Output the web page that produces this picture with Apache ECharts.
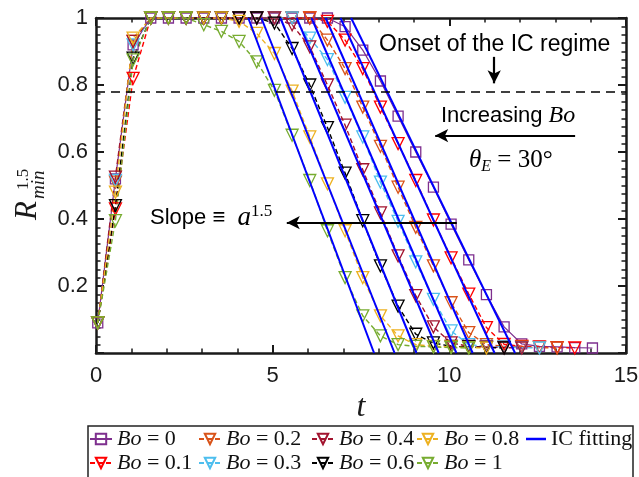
<!DOCTYPE html>
<html><head><meta charset="utf-8">
<script src="https://cdn.jsdelivr.net/npm/echarts@6/dist/echarts.min.js"></script>
<style>html,body{margin:0;padding:0;background:#fff}#c{width:639px;height:477px}</style>
</head><body><div id="c"></div>
<script>
// ---- data ----
const tVals = [0.05,0.55,1.05,1.55,2.05,2.55,3.05,3.55,4.05,4.55,5.05,5.55,6.05,6.55,7.05,7.55,8.05,8.55,9.05,9.55,10.05,10.55,11.05,11.55,12.05,12.55,13.05,13.55,14.05];
const bo0  = [0.09,0.52,0.92,1,1,1,1,1,1,1,1,1,1,1,0.974,0.904,0.812,0.707,0.600,0.495,0.385,0.278,0.174,0.078,0.027,0.02,0.018,0.016,0.015];
const bo01 = [0.09,0.43,0.82,1,1,1,1,1,1,1,1,1,1,0.99,0.934,0.849,0.734,0.625,0.515,0.397,0.284,0.176,0.076,0.026,0.02,0.018,0.016,0.015];
const bo02 = [0.09,0.51,0.93,1,1,1,1,1,1,1,1,1,1,0.934,0.849,0.734,0.617,0.495,0.375,0.26,0.15,0.061,0.025,0.02,0.018,0.016,0.015];
const bo03 = [0.09,0.515,0.92,1,1,1,1,1,1,1,1,1,0.94,0.876,0.763,0.645,0.51,0.393,0.272,0.16,0.066,0.025,0.02,0.018,0.016,0.015];
const bo04 = [0.09,0.525,0.93,1,1,1,1,1,1,1,1,0.98,0.914,0.8,0.68,0.547,0.418,0.29,0.171,0.078,0.03,0.02,0.018,0.016,0.015];
const bo06 = [0.09,0.44,0.88,1,1,1,1,1,1,1,0.985,0.909,0.8,0.673,0.537,0.395,0.26,0.14,0.056,0.03,0.02,0.018,0.016,0.015];
const bo08 = [0.09,0.48,0.94,1,1,1,1,1,0.99,0.954,0.894,0.782,0.645,0.505,0.365,0.225,0.111,0.051,0.025,0.02,0.018,0.016,0.015];
const bo1  = [0.09,0.395,0.875,1,1,1,0.98,0.96,0.93,0.869,0.784,0.65,0.515,0.365,0.225,0.111,0.051,0.025,0.02,0.018,0.016,0.015];
const seriesNames = ['Bo = 0','Bo = 0.1','Bo = 0.2','Bo = 0.3','Bo = 0.4','Bo = 0.6','Bo = 0.8','Bo = 1'];
const seriesValues = [bo0,bo01,bo02,bo03,bo04,bo06,bo08,bo1];
// IC fitting lines: t where fit reaches 1 and 0 (order as seriesNames)
const fitTop    = [7.22,6.92,6.5,6.1,5.68,5.22,4.68,4.31];
const fitBottom = [11.86,11.28,10.66,10.2,9.70,9.07,8.45,7.87];
const onsetLevel = 0.78;
const slopeArrow = [[10.21,0.389],[5.4,0.389]];
const boArrow = [[13.56,0.649],[9.6,0.649]];
const onsetArrow = [[11.27,0.884],[11.27,0.805]];
const xTickLabels = [0,5,10,15];
const yTickLabels = [0.2,0.4,0.6,0.8,1];

// ---- styles ----
const colors = ['#7E2F8E','#FF0000','#D95319','#4DBEEE','#A2142F','#000000','#EDB120','#77AC30'];
const AX = '#1a1a1a';
const SANS = '"Liberation Sans", Arial, sans-serif';
const SERIF = '"Liberation Serif", "Times New Roman", serif';

const chart = echarts.init(document.getElementById('c'), null, {renderer:'canvas'});

const series = [];
seriesValues.forEach((vals, k) => {
  const isSq = k === 0;
  series.push({
    name: seriesNames[k], type: 'line',
    data: vals.map((v, i) => [tVals[i], v]),
    symbol: isSq ? 'rect' : 'triangle',
    symbolRotate: isSq ? 0 : 180,
    symbolSize: isSq ? 10 : 12,
    showAllSymbol: true,
    lineStyle: {color: colors[k], width: isSq ? 1.2 : 1.4, type: isSq ? 'solid' : [5,3]},
    itemStyle: {color: 'rgba(255,255,255,0)', borderColor: colors[k], borderWidth: 1.3},
    emphasis: {disabled: true}, z: 3
  });
});
fitTop.forEach((t1, k) => {
  series.push({
    name: 'IC fitting', type: 'line',
    data: [[t1, 1], [fitBottom[k], 0]],
    symbol: 'none', clip: true,
    lineStyle: {color: '#0000FF', width: 2}, itemStyle: {color: '#0000FF'},
    emphasis: {disabled: true}, z: 4
  });
});
series.push({
  name: 'annot', type: 'line', data: [], z: 5,
  markLine: {
    silent: true, animation: false, label: {show: false},
    symbol: ['none','arrow'], symbolSize: [10,13],
    lineStyle: {color: '#000', width: 2.2, type: 'solid'},
    emphasis: {disabled: true},
    data: [
      [{coord: slopeArrow[0]}, {coord: slopeArrow[1]}],
      [{coord: boArrow[0]}, {coord: boArrow[1]}],
      [{coord: onsetArrow[0]}, {coord: onsetArrow[1]}]
    ]
  }
});
series.push({
  name: 'onset', type: 'line', data: [], z: 2,
  markLine: {
    silent: true, animation: false, label: {show: false}, symbol: ['none','none'],
    lineStyle: {color: '#000', width: 1.7, type: [9,6]},
    emphasis: {disabled: true},
    data: [[{coord: [0, onsetLevel]}, {coord: [15, onsetLevel]}]]
  }
});

const legendPos = [
  ['Bo = 0', 89, 428], ['Bo = 0.2', 198, 428], ['Bo = 0.4', 311, 428], ['Bo = 0.8', 416, 428], ['IC fitting', 526, 428],
  ['Bo = 0.1', 89, 452], ['Bo = 0.3', 198, 452], ['Bo = 0.6', 311, 452], ['Bo = 1', 416, 452]
];
const legends = legendPos.map(([n, l, t]) => {
  const isFit = n === 'IC fitting';
  const lg = {
    data: [n], left: l, top: t, padding: 0, itemGap: 0,
    itemWidth: isFit ? 20 : 22, itemHeight: 13,
    selectedMode: false,
    formatter: s => s.startsWith('Bo') ? s.replace('Bo', '{i|Bo}') : s,
    textStyle: {fontFamily: SERIF, fontSize: 22, color: '#111', lineHeight: 22,
      rich: {i: {fontFamily: SERIF, fontStyle: 'italic', fontSize: 22, color: '#111', lineHeight: 22}}}
  };
  if (isFit) {
    lg.data = [{name: n, icon: 'rect', itemStyle: {color: '#0000FF', borderWidth: 0}}];
    lg.itemHeight = 2.5;
  }
  return lg;
});

function xAx(pos) {
  return {
    type: 'value', min: 0, max: 15, interval: 5, position: pos,
    axisLine: {show: true, onZero: false, lineStyle: {color: AX, width: 2.5}},
    axisTick: {show: true, inside: true, length: 8, lineStyle: {color: AX, width: 2}},
    minorTick: {show: true, splitNumber: 5, length: 4.5, lineStyle: {color: AX, width: 1.5}},
    splitLine: {show: false},
    axisLabel: {show: pos === 'bottom', fontFamily: SANS, fontSize: 22, color: AX, margin: 12,
      formatter: v => xTickLabels.includes(v) ? String(v) : ''},
    name: pos === 'bottom' ? 't' : '', nameLocation: 'middle', nameGap: 36,
    nameTextStyle: {fontFamily: SERIF, fontStyle: 'italic', fontSize: 32, color: AX}
  };
}
function yAx(pos) {
  return {
    type: 'value', min: 0, max: 1, interval: 0.2, position: pos,
    axisLine: {show: true, onZero: false, lineStyle: {color: AX, width: 2.5}},
    axisTick: {show: true, inside: true, length: 8, lineStyle: {color: AX, width: 2}},
    minorTick: {show: true, splitNumber: 8, length: 4.5, lineStyle: {color: AX, width: 1.5}},
    splitLine: {show: false},
    axisLabel: {show: pos === 'left', fontFamily: SANS, fontSize: 22, color: AX, margin: 8,
      formatter: v => { const r = Math.round(v*10)/10; return yTickLabels.includes(r) ? String(r) : ''; }}
  };
}

const option = {
  animation: false,
  backgroundColor: '#fff',
  grid: {left: 96, right: 13, top: 18, bottom: 124, containLabel: false, outerBoundsMode: 'none'},
  xAxis: [xAx('bottom'), xAx('top')],
  yAxis: [yAx('left'), yAx('right')],
  legend: legends,
  series: series,
  graphic: [
    {type: 'text', x: 379, y: 45, silent: true,
      style: {text: 'Onset of the IC regime', font: '23px ' + SANS, fill: '#000', align: 'left', verticalAlign: 'middle'}},
    {type: 'text', x: 441, y: 116, silent: true,
      style: {text: '{n|Increasing }{i|Bo}', align: 'left', verticalAlign: 'middle',
        rich: {n: {font: '22px ' + SANS, fill: '#000'}, i: {font: 'italic 24px ' + SERIF, fill: '#000'}}}},
    {type: 'text', x: 469, y: 160, silent: true,
      style: {text: '{i|θ}{s|E}{n| = 30°}', align: 'left', verticalAlign: 'middle',
        rich: {i: {font: 'italic 25px ' + SERIF, fill: '#000', lineHeight: 30, verticalAlign: 'middle'},
               s: {font: 'italic 16px ' + SERIF, fill: '#000', lineHeight: 14, verticalAlign: 'bottom'},
               n: {font: '25px ' + SERIF, fill: '#000', lineHeight: 30, verticalAlign: 'middle'}}}},
    {type: 'text', x: 150, y: 218, silent: true,
      style: {text: '{n|Slope ≡  }{i|a}{s|1.5}', align: 'left', verticalAlign: 'middle',
        rich: {n: {font: '22px ' + SANS, fill: '#000', lineHeight: 30, verticalAlign: 'middle'},
               i: {font: 'italic 27px ' + SERIF, fill: '#000', lineHeight: 30, verticalAlign: 'middle'},
               s: {font: '17px ' + SERIF, fill: '#000', lineHeight: 20, verticalAlign: 'top'}}}},
    {type: 'group', x: 28, y: 220, rotation: Math.PI/2, silent: true, children: [
      {type: 'text', x: 0, y: 0, style: {text: 'R', font: 'italic 31px ' + SERIF, fill: AX, align: 'left', verticalAlign: 'middle'}},
      {type: 'text', x: 21, y: 11, style: {text: 'min', font: 'italic 19px ' + SERIF, fill: AX, align: 'left', verticalAlign: 'middle'}},
      {type: 'text', x: 30, y: -4, style: {text: '1.5', font: '17px ' + SERIF, fill: AX, align: 'left', verticalAlign: 'middle'}}
    ]},
    {type: 'rect', silent: true, shape: {x: 88, y: 426, width: 545, height: 60},
      style: {fill: 'none', stroke: '#222', lineWidth: 1.5}}
  ]
};
chart.setOption(option);
</script></body></html>
